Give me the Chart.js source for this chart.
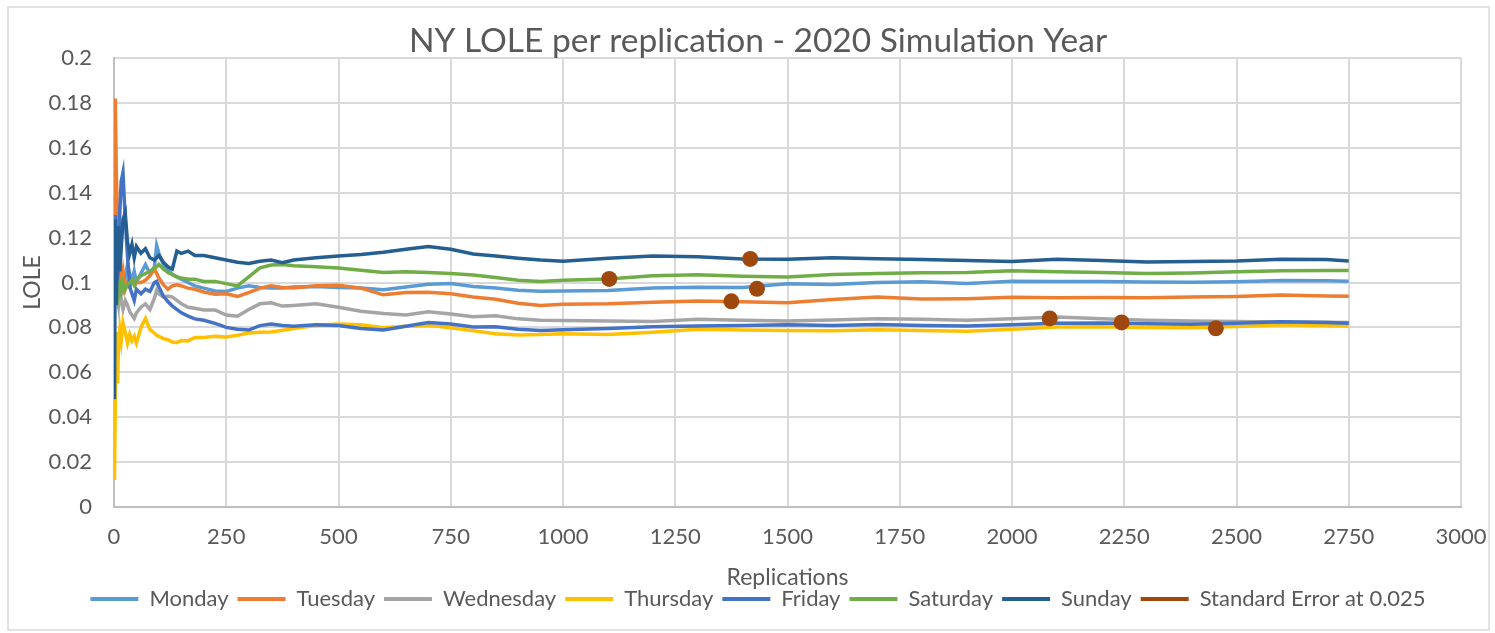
<!DOCTYPE html>
<html>
<head>
<meta charset="utf-8">
<script src="https://cdn.jsdelivr.net/npm/chart.js@4.4.1/dist/chart.umd.min.js"></script>
<style>
  html, body { margin: 0; padding: 0; background: #ffffff; }
  #wrap { position: relative; width: 1495px; height: 633px; }
</style>
</head>
<body>
<div id="wrap"><canvas id="c" width="1495" height="633"></canvas></div>
<script>
const titleText = "NY LOLE per replication - 2020 Simulation Year";
const xTitle = "Replications";
const yTitle = "LOLE";

const reps = [1,3,5,8,10,13,16,20,25,30,35,40,45,50,60,70,80,90,95,100,110,120,130,140,150,165,180,200,225,250,275,300,325,350,375,400,450,500,550,600,650,700,750,800,850,900,950,1000,1100,1200,1300,1400,1500,1600,1700,1800,1900,2000,2100,2200,2300,2400,2500,2600,2700,2750];

const monday = [0.100,0.130,0.105,0.110,0.100, 0.094,0.100,0.097,0.102,0.108, 0.104,0.101,0.105,0.100,0.104, 0.108,0.104,0.107,0.1165,0.113, 0.108,0.106,0.1035,0.1025,0.1015, 0.100,0.0985,0.0975,0.0962,0.096, 0.0975,0.0985,0.0978,0.0975,0.0975, 0.098,0.0982,0.0978,0.0975,0.0968, 0.098,0.0992,0.0995,0.0982,0.0975, 0.0965,0.0961,0.0962,0.0964,0.0975, 0.0979,0.0978,0.0994,0.0991,0.1000, 0.1003,0.0996,0.1006,0.1005,0.1004, 0.1002,0.1001,0.1003,0.1009,0.1008, 0.1006];
const tuesday = [0.125,0.182,0.150,0.125,0.118, 0.108,0.100,0.105,0.097,0.100, 0.098,0.101,0.099,0.100,0.100, 0.101,0.103,0.106,0.104,0.102, 0.099,0.097,0.0985,0.099,0.0985, 0.0975,0.097,0.0958,0.0948,0.095, 0.0938,0.0955,0.0975,0.0985,0.0978, 0.0975,0.0985,0.0988,0.0975,0.0945, 0.0955,0.0957,0.095,0.0935,0.0925, 0.0908,0.0898,0.0903,0.0905,0.0912, 0.0918,0.0914,0.091,0.0924,0.0935, 0.0926,0.0928,0.0934,0.0932,0.0933, 0.0932,0.0935,0.0938,0.0944,0.094, 0.0939];
const wednesday = [0.100,0.095,0.105,0.093,0.090, 0.098,0.092,0.088,0.092,0.090, 0.087,0.0855,0.084,0.0865,0.089, 0.0905,0.088,0.093,0.0965,0.095, 0.0935,0.094,0.0935,0.092,0.0905, 0.089,0.0885,0.0878,0.0878,0.0855, 0.085,0.088,0.0905,0.091,0.0895, 0.0898,0.0905,0.089,0.0872,0.0862, 0.0855,0.087,0.086,0.0848,0.0852, 0.0838,0.0832,0.0831,0.0828,0.0826, 0.0836,0.0832,0.0828,0.0833,0.0838, 0.0836,0.0832,0.0838,0.0846,0.0838, 0.0832,0.0828,0.0826,0.0824,0.0823, 0.0822];
const thursday = [0.012,0.048,0.078,0.055,0.072, 0.079,0.074,0.082,0.078,0.073, 0.077,0.074,0.076,0.073,0.080, 0.084,0.079,0.0775,0.0765,0.076, 0.075,0.0745,0.0735,0.0732,0.0742, 0.074,0.0755,0.0755,0.076,0.0757, 0.0765,0.0775,0.0778,0.078,0.0787, 0.0795,0.0808,0.0815,0.0812,0.0799, 0.0805,0.0809,0.0798,0.0785,0.0772, 0.0766,0.0768,0.0772,0.0768,0.0778, 0.0792,0.0788,0.0786,0.0785,0.079, 0.0786,0.0783,0.0792,0.0802,0.0803, 0.0799,0.0798,0.0804,0.0812,0.0808, 0.0806];
const friday = [0.100,0.130,0.115,0.100,0.108, 0.132,0.145,0.149,0.128,0.112, 0.098,0.095,0.092,0.097,0.095, 0.097,0.096,0.100,0.1005,0.098, 0.094,0.0915,0.0895,0.088,0.0865, 0.085,0.0838,0.0832,0.0818,0.080, 0.0792,0.0788,0.0808,0.0815,0.0808, 0.0805,0.0812,0.0808,0.0795,0.0788, 0.0805,0.0822,0.0815,0.0802,0.0803, 0.0792,0.0786,0.079,0.0795,0.0803, 0.0806,0.0809,0.0812,0.0808,0.0813, 0.0808,0.0806,0.0812,0.0818,0.082, 0.0816,0.0814,0.0818,0.0825,0.0822, 0.0819];
const saturday = [0.094,0.100,0.096,0.101,0.095, 0.099,0.096,0.100,0.097,0.099, 0.100,0.101,0.099,0.1015,0.103, 0.104,0.105,0.1065,0.107,0.108, 0.106,0.1045,0.1035,0.1025,0.102, 0.1015,0.1015,0.1005,0.1005,0.0995, 0.0985,0.1025,0.1065,0.1078,0.108, 0.1075,0.107,0.1065,0.1055,0.1045, 0.1048,0.1045,0.104,0.1033,0.1022, 0.101,0.1005,0.101,0.1016,0.103, 0.1035,0.1028,0.1024,0.1036,0.104, 0.1043,0.1045,0.1052,0.1048,0.1045, 0.104,0.1042,0.1048,0.1052,0.1054, 0.1053];
const sunday = [0.048,0.128,0.090,0.118,0.125, 0.105,0.115,0.128,0.131,0.118, 0.113,0.117,0.111,0.116,0.113, 0.115,0.111,0.110,0.111,0.112, 0.109,0.107,0.106,0.114,0.113, 0.114,0.112,0.112,0.111,0.110, 0.109,0.1085,0.1095,0.110,0.1088, 0.110,0.111,0.1118,0.1125,0.1135, 0.1148,0.116,0.1148,0.1127,0.1118, 0.1108,0.110,0.1095,0.1108,0.1118, 0.1115,0.1105,0.1104,0.111,0.1106, 0.1102,0.1098,0.1094,0.1104,0.1098, 0.1091,0.1093,0.1096,0.1104,0.1102, 0.1096];

const seReps = [1103, 1375, 1417, 1432, 2084, 2244, 2454];
const seValues = [0.1016, 0.0916, 0.1105, 0.0972, 0.0840, 0.0822, 0.0796];

const seriesNames = ["Monday","Tuesday","Wednesday","Thursday","Friday","Saturday","Sunday"];
const seriesValues = [monday, tuesday, wednesday, thursday, friday, saturday, sunday];
const seriesColors = ["#5B9BD5","#ED7D31","#A5A5A5","#FFC000","#4472C4","#70AD47","#255E91"];
const seName = "Standard Error at 0.025";
const seColor = "#9E480E";

const FONT = "Lato, 'Open Sans', sans-serif";
const TXT = "#595959";

const datasets = seriesNames.map((name, i) => ({
  type: 'line',
  label: name,
  data: reps.map((r, k) => ({x: r, y: seriesValues[i][k]})),
  borderColor: seriesColors[i],
  backgroundColor: seriesColors[i],
  borderWidth: 3.5,
  pointRadius: 0,
  tension: 0,
  fill: false,
  order: 20 - i
}));
datasets.push({
  type: 'scatter',
  label: seName,
  data: seReps.map((r, k) => ({x: r, y: seValues[k]})),
  borderColor: seColor,
  backgroundColor: seColor,
  pointRadius: 8,
  pointHoverRadius: 8,
  borderWidth: 0,
  showLine: false,
  order: 0
});

const framePlugin = {
  id: 'frame',
  beforeDraw(chart) {
    const ctx = chart.ctx;
    ctx.save();
    ctx.fillStyle = '#ffffff';
    ctx.fillRect(0, 0, chart.width, chart.height);
    ctx.strokeStyle = '#D9D9D9';
    ctx.lineWidth = 1.5;
    ctx.strokeRect(8, 7, 1481, 623);
    ctx.restore();
  }
};

new Chart(document.getElementById('c'), {
  data: { datasets },
  plugins: [framePlugin],
  options: {
    responsive: false,
    animation: false,
    devicePixelRatio: 1,
    layout: { padding: { left: 21, right: 0, top: 8, bottom: 13 } },
    plugins: {
      title: {
        display: true,
        text: titleText,
        color: TXT,
        font: { family: FONT, size: 33.5, weight: 'normal', lineHeight: 1 },
        padding: { top: 16, bottom: 0.5 }
      },
      legend: {
        display: true,
        position: 'bottom',
        labels: {
          color: TXT,
          font: { family: FONT, size: 22, lineHeight: 1 },
          boxWidth: 48,
          boxHeight: 4,
          padding: 9,
          sort: (a, b) => a.datasetIndex - b.datasetIndex,
          generateLabels: (chart) => Chart.defaults.plugins.legend.labels.generateLabels(chart)
            .map(l => Object.assign({}, l, { lineWidth: 0, fillStyle: l.strokeStyle }))
        }
      },
      tooltip: { enabled: false }
    },
    scales: {
      x: {
        type: 'linear',
        min: 0, max: 3000,
        ticks: {
          stepSize: 250,
          color: TXT,
          font: { family: FONT, size: 22 },
          padding: 17,
          callback: (v) => String(v)
        },
        grid: { color: '#D9D9D9', lineWidth: 2, drawTicks: false },
        border: { color: '#BFBFBF', width: 2 },
        title: {
          display: true, text: xTitle, color: TXT,
          font: { family: FONT, size: 23, lineHeight: 1 },
          padding: { top: 0, bottom: -10 }
        },
        afterFit: (s) => { s.height = 72; s.paddingRight = 0; s.paddingLeft = 0; }
      },
      y: {
        type: 'linear',
        min: 0, max: 0.2,
        ticks: {
          stepSize: 0.02,
          color: TXT,
          font: { family: FONT, size: 22 },
          padding: 22,
          callback: (v) => String(Number(v.toFixed(2)))
        },
        grid: { color: '#D9D9D9', lineWidth: 2, drawTicks: false },
        border: { color: '#BFBFBF', width: 2 },
        title: {
          display: true, text: yTitle, color: TXT,
          font: { family: FONT, size: 23, lineHeight: 1 },
          padding: { top: 0, bottom: 0 }
        },
        afterFit: (s) => { s.width = 93; }
      },
      y2: {
        type: 'linear',
        position: 'right',
        display: true,
        grid: { display: false, drawTicks: false },
        ticks: { display: false },
        border: { display: false },
        afterFit: (s) => { s.width = 34; }
      }
    }
  }
});
</script>
</body>
</html>
